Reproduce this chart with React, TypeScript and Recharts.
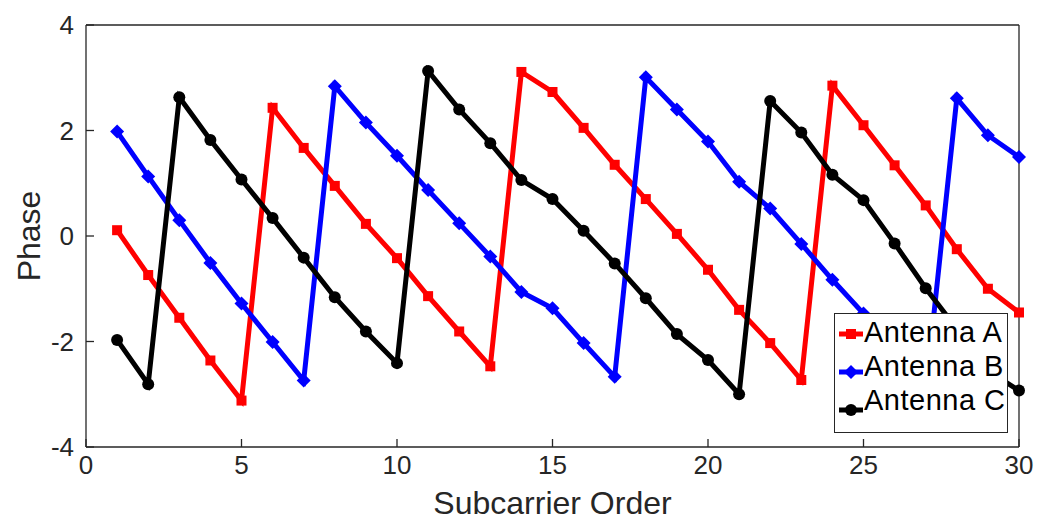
import { LineChart, Line, XAxis, YAxis, Legend } from "recharts";

// phase per subcarrier, one array per antenna
const SUBCARRIERS = [
  1, 2, 3, 4, 5, 6, 7, 8, 9, 10, 11, 12, 13, 14, 15, 16, 17, 18, 19, 20, 21, 22, 23, 24, 25, 26, 27,
  28, 29, 30,
];
const ANTENNA_A = [
  0.11, -0.74, -1.55, -2.36, -3.12, 2.43, 1.67, 0.95, 0.23, -0.42, -1.14, -1.81, -2.47, 3.11, 2.73,
  2.05, 1.35, 0.7, 0.04, -0.64, -1.4, -2.03, -2.73, 2.85, 2.1, 1.34, 0.58, -0.25, -1.0, -1.45,
];
const ANTENNA_B = [
  1.98, 1.13, 0.3, -0.51, -1.28, -2.01, -2.74, 2.84, 2.15, 1.52, 0.87, 0.24, -0.39, -1.06, -1.37,
  -2.03, -2.67, 3.01, 2.4, 1.79, 1.03, 0.52, -0.15, -0.83, -1.47, -2.2, -2.95, 2.61, 1.91, 1.5,
];
const ANTENNA_C = [
  -1.97, -2.81, 2.63, 1.82, 1.07, 0.34, -0.41, -1.16, -1.81, -2.41, 3.13, 2.4, 1.76, 1.06, 0.7, 0.1,
  -0.52, -1.18, -1.86, -2.35, -3.0, 2.56, 1.96, 1.16, 0.68, -0.14, -0.99, -1.76, -2.55, -2.93,
];
const X_TICKS = [0, 5, 10, 15, 20, 25, 30];
const Y_TICKS = [-4, -2, 0, 2, 4];

const rows = SUBCARRIERS.map((n, i) => ({
  n,
  a: ANTENNA_A[i],
  b: ANTENNA_B[i],
  c: ANTENNA_C[i],
}));

const FONT = '"Liberation Sans", Arial, Helvetica, sans-serif';
const AXIS = "#262626";
const RED = "#ff0000";
const BLUE = "#0000ff";
const BLACK = "#000000";

type Shape = "square" | "diamond" | "circle";

function Marker({ cx, cy, color, shape }: { cx: number; cy: number; color: string; shape: Shape }) {
  if (cx == null || cy == null) return null;
  if (shape === "square") {
    return <rect x={cx - 5} y={cy - 5} width={10} height={10} fill={color} />;
  }
  if (shape === "diamond") {
    return (
      <polygon
        points={`${cx},${cy - 7} ${cx + 7},${cy} ${cx},${cy + 7} ${cx - 7},${cy}`}
        fill={color}
      />
    );
  }
  return <circle cx={cx} cy={cy} r={6} fill={color} />;
}

const SERIES: { key: string; name: string; color: string; shape: Shape }[] = [
  { key: "a", name: "Antenna A", color: RED, shape: "square" },
  { key: "b", name: "Antenna B", color: BLUE, shape: "diamond" },
  { key: "c", name: "Antenna C", color: BLACK, shape: "circle" },
];

function LegendBox() {
  return (
    <div
      style={{
        border: `1.3px solid ${AXIS}`,
        background: "#fff",
        width: 174,
        height: 120,
        boxSizing: "border-box",
        paddingTop: 1,
        fontFamily: FONT,
        fontSize: 29,
        color: "#000",
      }}
    >
      {SERIES.map((s, i) => (
        <div
          key={s.key}
          style={{ position: "relative", height: 34, display: "flex", alignItems: "center" }}
        >
          <svg
            width={26}
            height={16}
            style={{ position: "absolute", left: 3, top: 11 + i * 4 }}
          >
            <line x1={1} y1={8} x2={25} y2={8} stroke={s.color} strokeWidth={5} />
            <Marker cx={13} cy={8} color={s.color} shape={s.shape} />
          </svg>
          <span style={{ marginLeft: 29, lineHeight: "34px", letterSpacing: 0.5 }}>{s.name}</span>
        </div>
      ))}
    </div>
  );
}

export default function App() {
  return (
    <div style={{ position: "absolute", left: 0, top: 0, width: 1041, height: 521, background: "#fff" }}>
      <LineChart
        width={1041}
        height={521}
        data={rows}
        margin={{ top: 24, right: 21, bottom: 73, left: 85 }}
      >
        <XAxis
          dataKey="n"
          type="number"
          domain={[0, 30]}
          ticks={X_TICKS}
          height={1}
          tickSize={-8}
          tickMargin={17}
          stroke={AXIS}
          strokeWidth={1.3}
          tick={{ fill: "#262626", fontSize: 26, fontFamily: FONT }}
          label={{
            value: "Subcarrier Order",
            position: "insideBottom",
            offset: -66,
            fill: "#262626",
            fontSize: 32,
            fontFamily: FONT,
          }}
        />
        <XAxis
          xAxisId="top"
          orientation="top"
          dataKey="n"
          type="number"
          domain={[0, 30]}
          ticks={X_TICKS}
          height={1}
          tickSize={-8}
          stroke={AXIS}
          strokeWidth={1.3}
          tick={false}
        />
        <YAxis
          type="number"
          domain={[-4, 4]}
          ticks={Y_TICKS}
          width={1}
          tickSize={-8}
          tickMargin={20}
          stroke={AXIS}
          strokeWidth={1.3}
          tick={{ fill: "#262626", fontSize: 26, fontFamily: FONT }}
          label={{
            value: "Phase",
            angle: -90,
            position: "insideLeft",
            offset: -56,
            fill: "#262626",
            fontSize: 32,
            fontFamily: FONT,
            style: { textAnchor: "middle" },
          }}
        />
        <YAxis
          yAxisId="right"
          orientation="right"
          type="number"
          domain={[-4, 4]}
          ticks={Y_TICKS}
          width={1}
          tickSize={-8}
          stroke={AXIS}
          strokeWidth={1.3}
          tick={false}
        />
        {SERIES.map((s) => (
          <Line
            key={s.key}
            dataKey={s.key}
            name={s.name}
            type="linear"
            stroke={s.color}
            strokeWidth={5}
            isAnimationActive={false}
            dot={(p: any) => (
              <Marker key={`${s.key}-${p.index}`} cx={p.cx} cy={p.cy} color={s.color} shape={s.shape} />
            )}
            activeDot={false}
          />
        ))}
        <Legend
          layout="horizontal"
          verticalAlign="middle"
          align="center"
          wrapperStyle={{ left: 834, top: 313, width: 174, height: 120 }}
          content={() => <LegendBox />}
        />
      </LineChart>
    </div>
  );
}
